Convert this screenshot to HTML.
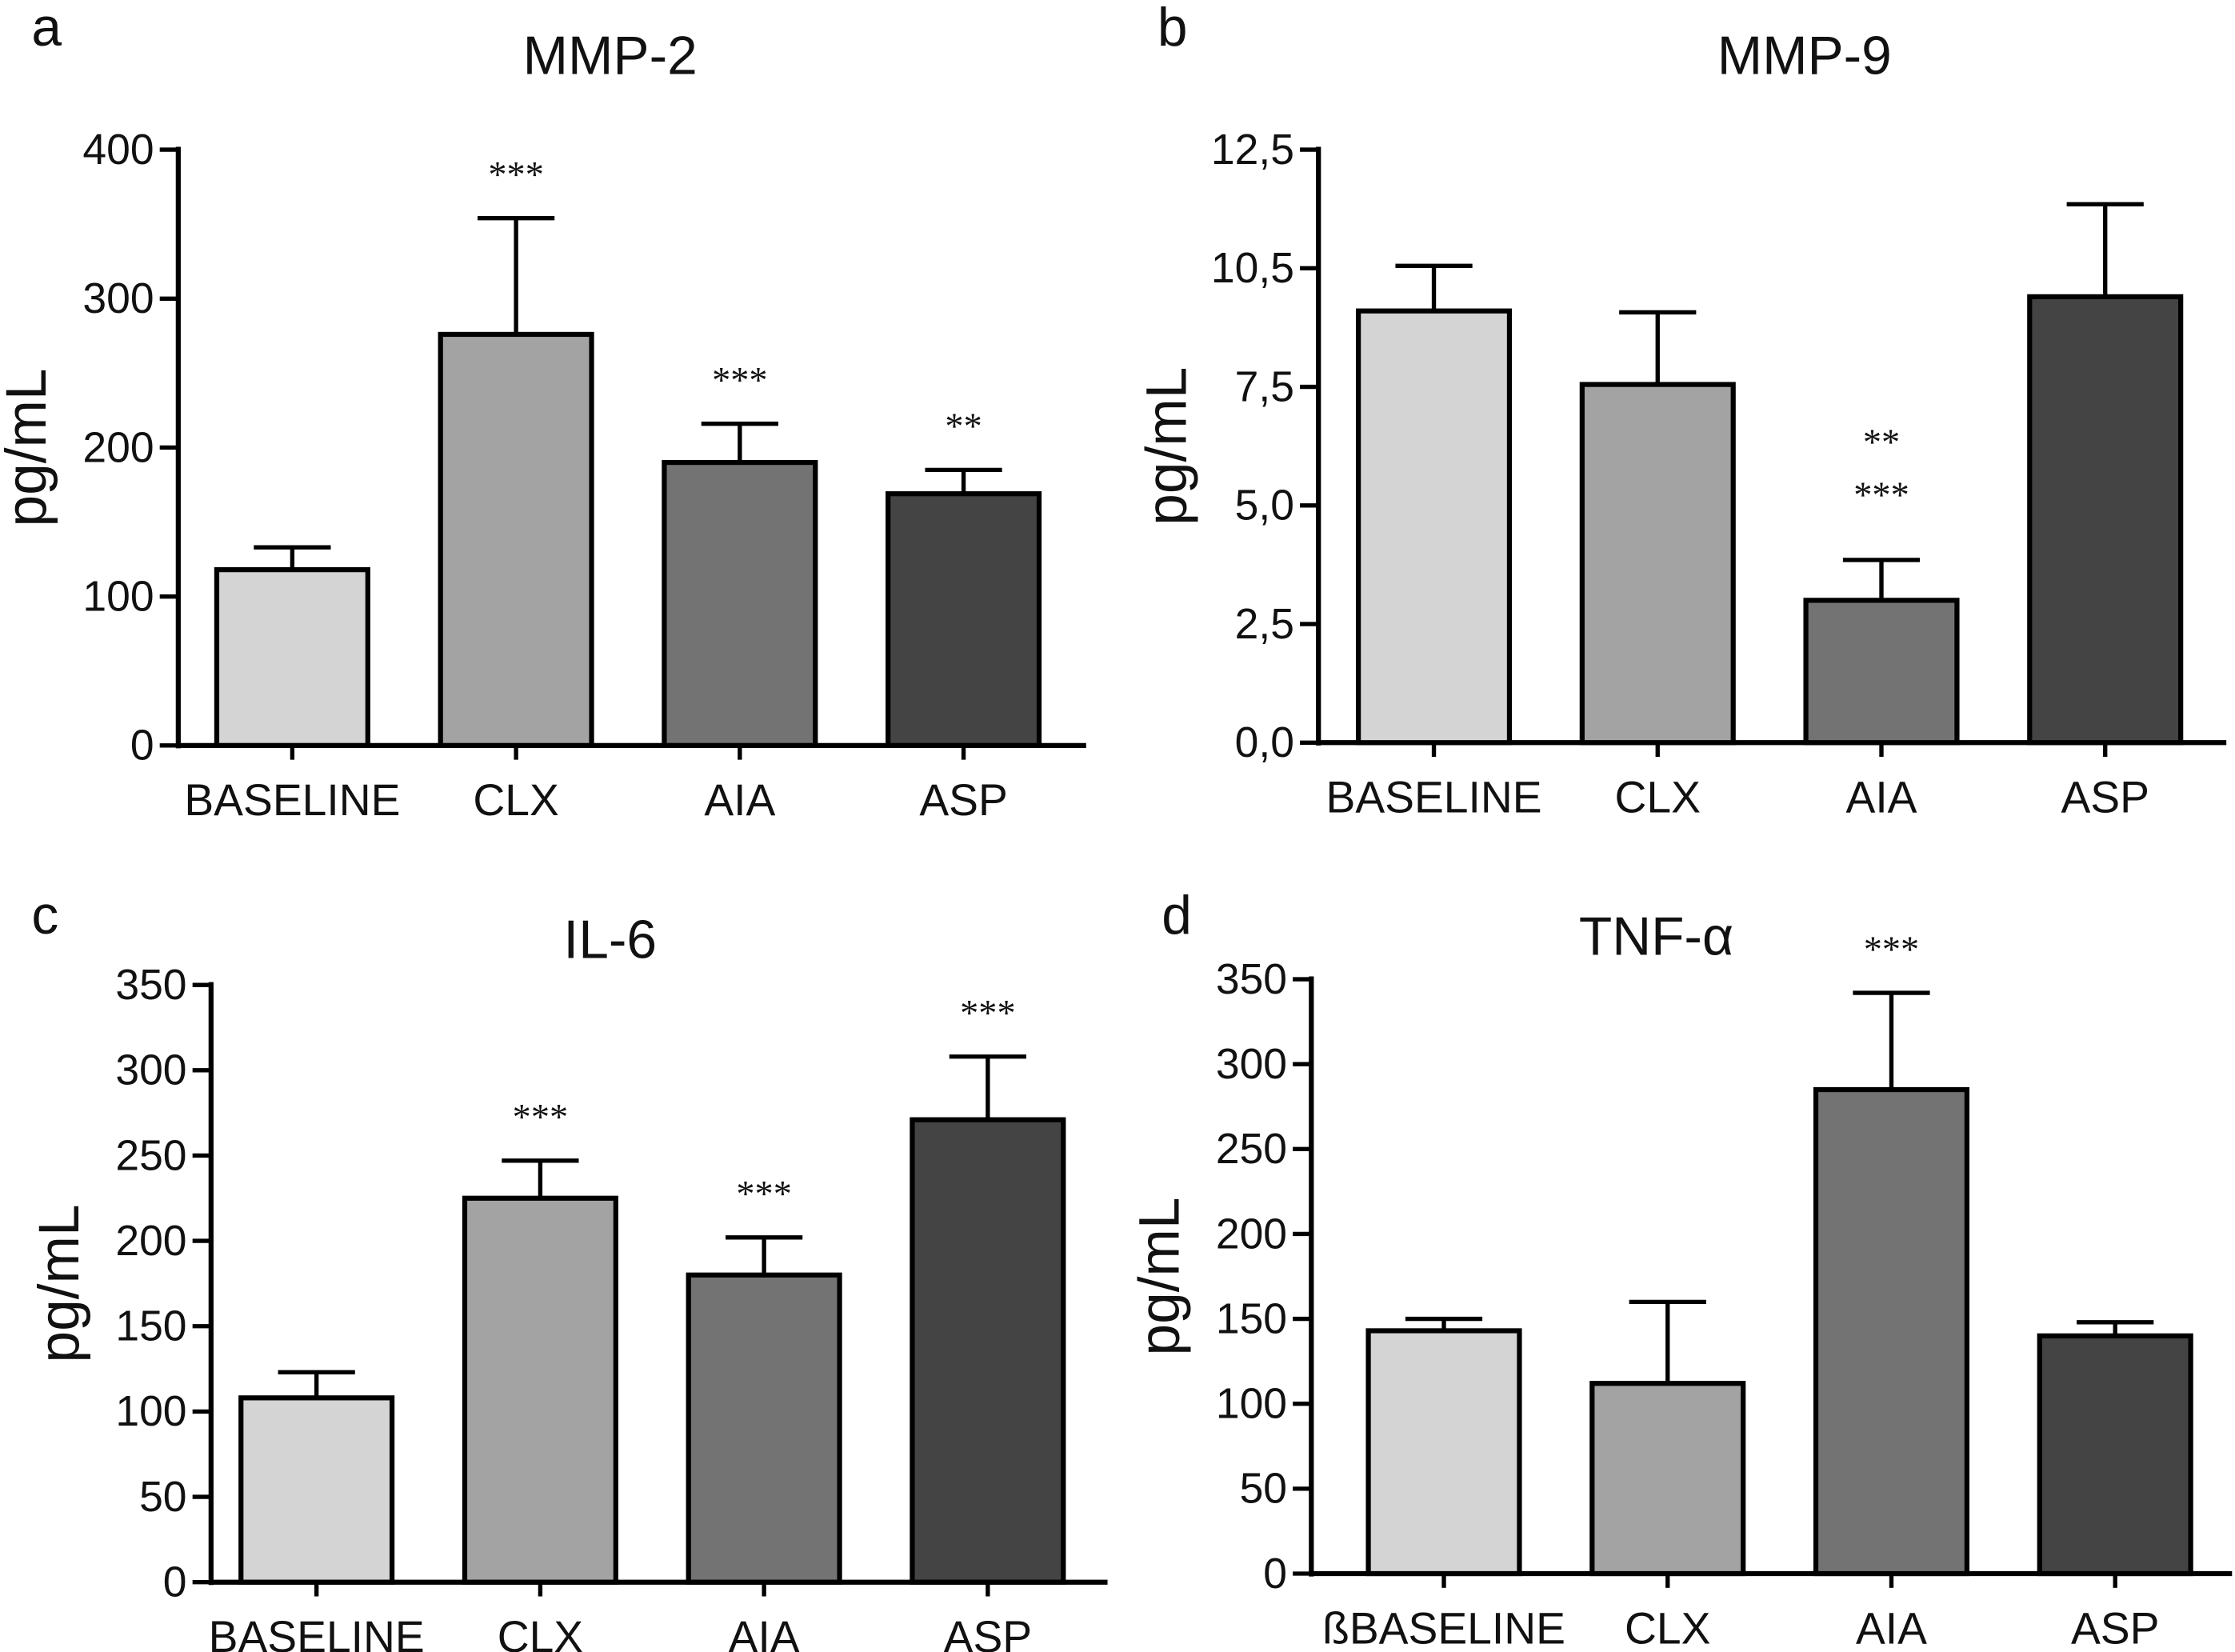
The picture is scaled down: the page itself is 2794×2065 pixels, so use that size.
<!DOCTYPE html>
<html><head><meta charset="utf-8"><style>
html,body{margin:0;padding:0;background:#fff}
svg{display:block}
text{font-family:"Liberation Sans",sans-serif;fill:#111}
</style></head><body>
<svg id="fig" width="2794" height="2065" viewBox="0 0 1568 1159" xmlns="http://www.w3.org/2000/svg"></svg>
<script>
const categories = ["BASELINE","CLX","AIA","ASP"];
const categoriesD = ["ßBASELINE","CLX","AIA","ASP"];
const mmp2Values = [118, 276, 190, 169];
const mmp2Errors = [133, 354, 216, 185];
const mmp2Stars = ["", "***", "***", "**"];
const mmp9Values = [9.1, 7.55, 3.0, 9.4];
const mmp9Errors = [10.05, 9.07, 3.85, 11.35];
const mmp9Stars = ["", "", "**\n***", ""];
const il6Values = [108, 225, 180, 271];
const il6Errors = [123, 247, 202, 308];
const il6Stars = ["", "***", "***", "***"];
const tnfValues = [143, 112, 285, 140];
const tnfErrors = [150, 160, 342, 148];
const tnfStars = ["", "", "***", ""];
const ticksA = [0,100,200,300,400];
const tickLabelsA = ["0","100","200","300","400"];
const ticksB = [0,2.5,5,7.5,10,12.5];
const tickLabelsB = ["0,0","2,5","5,0","7,5","10,5","12,5"];
const ticksC = [0,50,100,150,200,250,300,350];
const tickLabelsC = ["0","50","100","150","200","250","300","350"];

const colors = ["#d4d4d4","#a3a3a3","#737373","#444444"];
const NS = "http://www.w3.org/2000/svg";
const svg = document.getElementById("fig");
function el(tag, attrs, parent){const e=document.createElementNS(NS,tag);for(const k in attrs)e.setAttribute(k,attrs[k]);(parent||svg).appendChild(e);return e;}

function panel(p){
  const g = el("g",{});
  
  
  const y = v => p.y0 - (v - 0) / p.max * (p.y0 - p.yTop);
  const x = i => p.xStart + i * p.step;
  const L = el("text",{x:p.lx,y:p.ly,"font-size":38},g); L.textContent=p.letter;
  
  
  const T = el("text",{x:p.tx,y:p.ty,"font-size":38,"text-anchor":"middle"},g); T.textContent=p.title;
  
  
  const Y = el("text",{x:0,y:0,"font-size":40,"text-anchor":"middle",transform:`translate(${p.ax-93},${(p.y0+p.yTop)/2}) rotate(-90)`},g); Y.textContent="pg/mL";
  
  
  const ya = el("line",{x1:p.ax,y1:p.yTop-2,x2:p.ax,y2:p.y0+2,stroke:"#000","stroke-width":3.5},g);
  
  
  const xa = el("line",{x1:p.ax,y1:p.y0,x2:p.xEnd,y2:p.y0,stroke:"#000","stroke-width":3.5},g);
  
  
  p.ticks.forEach((t,i)=>{
    el("line",{x1:p.ax-13,y1:y(t),x2:p.ax,y2:y(t),stroke:"#000","stroke-width":3},g);
    const tl = el("text",{x:p.ax-17,y:y(t)+10,"font-size":30,"text-anchor":"end"},g); tl.textContent=p.tickLabels[i];
    
    
  });
  p.values.forEach((v,i)=>{
    const cx = x(i);
    el("line",{x1:cx,y1:y(v),x2:cx,y2:y(p.errors[i]),stroke:"#000","stroke-width":3},g);
    el("line",{x1:cx-27,y1:y(p.errors[i]),x2:cx+27,y2:y(p.errors[i]),stroke:"#000","stroke-width":3},g);
    const b = el("rect",{x:cx-53,y:y(v),width:106,height:p.y0-y(v),fill:colors[i],stroke:"#000","stroke-width":3.5},g);
    
    
    el("line",{x1:cx,y1:p.y0,x2:cx,y2:p.y0+10,stroke:"#000","stroke-width":3},g);
    const c = el("text",{x:cx,y:p.y0+49,"font-size":31,"text-anchor":"middle"},g); c.textContent=p.cats[i];
    
    
    if(p.stars[i]){
      const lines = p.stars[i].split("\n");
      const base = lines.length>1 ? 37 : 22;
      lines.forEach((s,k)=>{
        const st = el("text",{x:cx,y:y(p.errors[i])-base-(lines.length-1-k)*37,"font-size":26,"text-anchor":"middle",style:"font-family:'Liberation Serif',serif"},g);
        st.textContent=s;
        
        
      });
    }
  });
}
panel({letter:"a",lx:22,ly:32,title:"MMP-2",tx:428,ty:52,ax:125,yTop:105,y0:523,max:400,xStart:205,step:157,xEnd:762,
  values:mmp2Values,errors:mmp2Errors,stars:mmp2Stars,ticks:ticksA,tickLabels:tickLabelsA,cats:categories});
panel({letter:"b",lx:812,ly:32,title:"MMP-9",tx:1266,ty:52,ax:925,yTop:105,y0:521,max:12.5,xStart:1006,step:157,xEnd:1562,
  values:mmp9Values,errors:mmp9Errors,stars:mmp9Stars,ticks:ticksB,tickLabels:tickLabelsB,cats:categories});
panel({letter:"c",lx:22,ly:655,title:"IL-6",tx:428,ty:672,ax:148,yTop:691,y0:1110,max:350,xStart:222,step:157,xEnd:777,
  values:il6Values,errors:il6Errors,stars:il6Stars,ticks:ticksC,tickLabels:tickLabelsC,cats:categories});
panel({letter:"d",lx:815,ly:655,title:"TNF-α",tx:1162,ty:670,ax:920,yTop:687,y0:1104,max:350,xStart:1013,step:157,xEnd:1566,
  values:tnfValues,errors:tnfErrors,stars:tnfStars,ticks:ticksC,tickLabels:tickLabelsC,cats:categoriesD});
</script>
</body></html>
